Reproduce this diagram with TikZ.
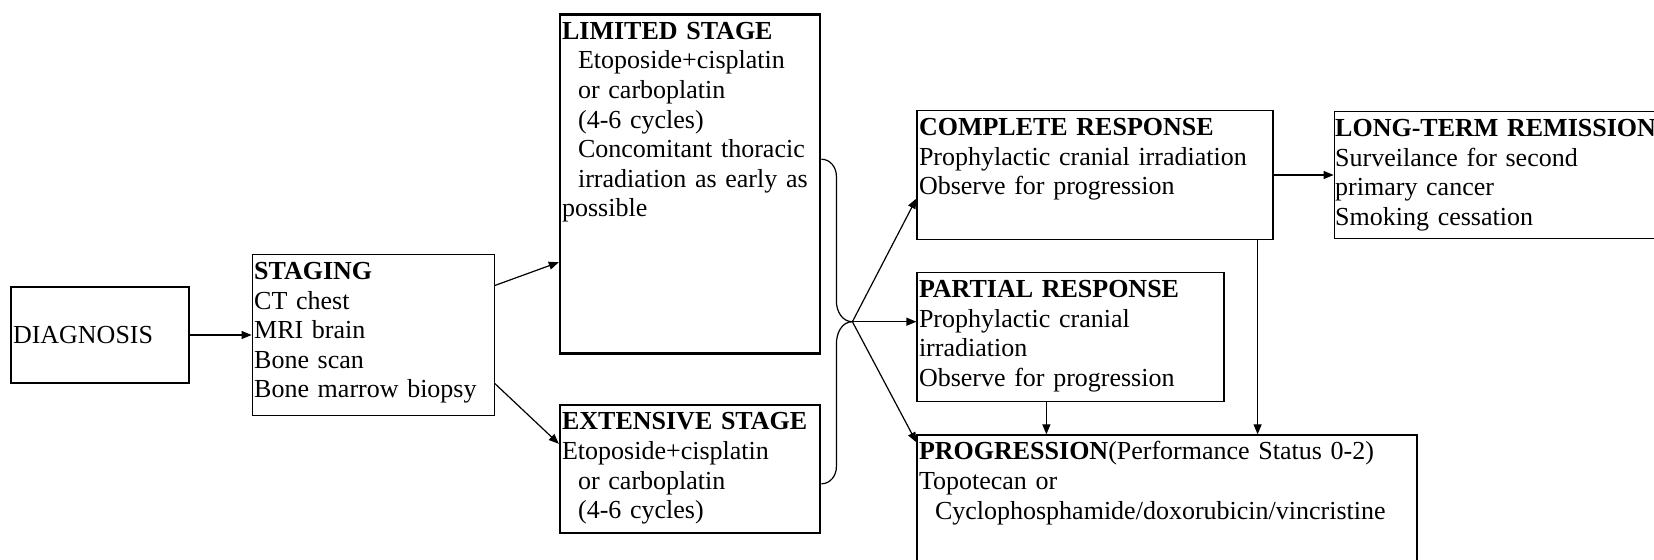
\documentclass[tikz,border=0pt]{standalone}
\usepackage{fontspec}
\setmainfont{Liberation Serif}
\usetikzlibrary{arrows, arrows.meta, positioning}
\tikzstyle{box} = [rectangle, draw=black, line width=0.6pt, align=left, inner xsep=1pt, inner ysep=1.5pt]
\tikzstyle{listbox} = [box, text height=11pt]
\tikzstyle{thickbox} = [listbox, line width=1.3pt]
\tikzstyle{arrow} = [line width=0.6pt, ->, >={Triangle[length=5pt,width=4pt]}]
\newcommand{\ind}{\hspace*{8pt}}

\begin{document}
\begin{tikzpicture}[font=\fontsize{13}{14.8}\selectfont]
\useasboundingbox (0pt,0pt) rectangle (827pt,279.5pt);
% Nodes
\node (diag) [box, text width=87pt, minimum height=48pt] at (50pt,112pt) {DIAGNOSIS};
\node (staging) [listbox, right=31pt of diag, text width=119pt, text depth=66.5pt] {\textbf{STAGING}\\CT chest\\MRI brain\\Bone scan\\Bone marrow biopsy};
\node (limited) [thickbox, right=32pt of staging.north east, anchor=north west, yshift=120.5pt, text width=128pt, text depth=155.5pt] {\textbf{LIMITED STAGE}\\\ind Etoposide+cisplatin\\\ind or carboplatin\\\ind (4-6 cycles)\\\ind Concomitant thoracic\\\ind irradiation as early as\\possible};
\node (extensive) [thickbox, below=24.5pt of limited, text width=128pt, text depth=50pt] {\textbf{EXTENSIVE STAGE}\\Etoposide+cisplatin\\\ind or carboplatin\\\ind (4-6 cycles)};

% Response nodes
\node (complete) [listbox, right=47.5pt of limited.north east, anchor=north west, yshift=-48.5pt, text width=176pt, text depth=50.5pt] {\textbf{COMPLETE RESPONSE}\\Prophylactic cranial irradiation\\Observe for progression};
\node (partial) [listbox, below=16pt of complete.south west, anchor=north west, text width=151.5pt, text depth=50.5pt] {\textbf{PARTIAL RESPONSE}\\Prophylactic cranial\\irradiation\\Observe for progression};
\node (progression) [listbox, below=16pt of partial.south west, anchor=north west, text width=248pt, text depth=61pt] {\textbf{PROGRESSION}(Performance Status 0-2)\\Topotecan or\\\ind Cyclophosphamide/doxorubicin/vincristine};
\node (remission) [listbox, right=30pt of complete, inner xsep=0.5pt, text width=170pt, text depth=49.5pt] {\textbf{LONG-TERM REMISSION}\\Surveilance for second\\primary cancer\\Smoking cessation};

\coordinate (fork) at ([xshift=-32pt, yshift=7.75pt]partial.west);

% Arrows
\draw [arrow] (diag) -- (staging);
\draw [arrow] ([yshift=24.75pt]staging.east) -- ([yshift=-39.25pt]limited.west);
\draw [arrow] ([yshift=-24.25pt]staging.east) -- ([yshift=12.5pt]extensive.west);

% Brace
\draw [line width=0.6pt] ([yshift=12.25pt]limited.east) to[out=0,in=90] ++(7.5pt,-8.5pt) -- ++(0,-62.5pt) to[out=-90,in=180] (fork);
\draw [line width=0.6pt] ([yshift=-7.5pt]extensive.east) to[out=0,in=-90] ++(7.5pt,8.5pt) -- ++(0,61.5pt) to[out=90,in=180] (fork);

\draw [arrow] (fork) -- ([yshift=-11.75pt]complete.west);
\draw [arrow] (fork) -- (fork -| partial.west);
\draw [arrow] (fork) -- ([yshift=-4pt]progression.north west);
\draw [arrow] (complete) -- (remission);
\draw [arrow] ([xshift=-8pt]complete.south east) -- ([xshift=-8pt]complete.south east |- progression.north);
\draw [arrow] ([xshift=65pt]partial.south west) -- ([xshift=65pt]partial.south west |- progression.north);

\end{tikzpicture}
\end{document}
